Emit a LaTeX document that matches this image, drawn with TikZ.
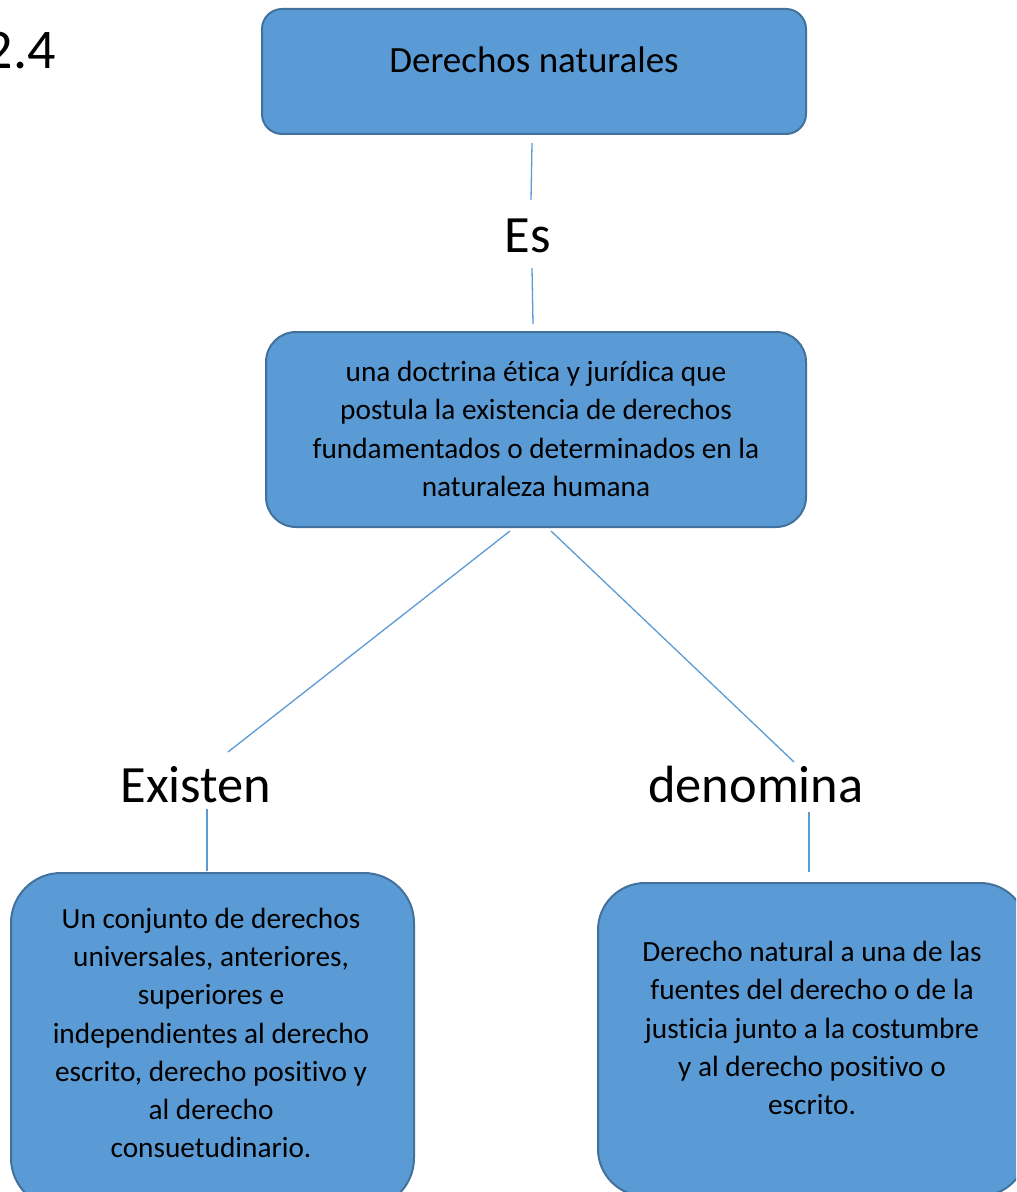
\documentclass[tikz,border=0pt]{standalone}
\usepackage{fontspec}
\setmainfont{Carlito}[Ligatures={NoCommon,NoContextual},RawFeature={-calt}]
\usepackage{xcolor}
\usetikzlibrary{calc}
\definecolor{boxfill}{HTML}{5B9BD5}
\definecolor{boxedge}{HTML}{41719C}
\definecolor{linkblue}{HTML}{5B9BD5}
\tikzstyle{conceptbox} = [draw=boxedge, fill=boxfill, line width=1pt,
rectangle, inner sep=0pt]
\tikzstyle{boxtext} = [align=center, inner sep=0pt, font=\fontsize{14.65}{19.15}\selectfont]
\tikzstyle{linkword} = [inner sep=0pt, anchor=base, font=\fontsize{26.2}{32}\selectfont]
\tikzstyle{link} = [draw=linkblue, line width=0.65pt]
\begin{document}
\begin{tikzpicture}[x=0.5pt, y=-0.5pt]
        \useasboundingbox (0,0) rectangle (1016,1192);
        \clip (0,0) rectangle (1016,1192);
        \node[inner sep=0pt, anchor=base east, font=\fontsize{28}{34}\selectfont] (num) at (56,69) {2.4};
        \node[conceptbox, minimum width=272pt, minimum height=62.5pt, rounded corners=10pt] (top) at (534,71.5) {};
        \node[boxtext, anchor=base, font=\fontsize{18.5}{22}\selectfont] (toptext) at (534,73) {Derechos naturales};
        \node[conceptbox, minimum width=270pt, minimum height=97.5pt, rounded corners=15pt] (mid) at (536,429.5) {};
        \node[boxtext] (midtext) at (536,429) {una doctrina ética y jurídica que\\postula la existencia de derechos\\fundamentados o determinados en la\\naturaleza humana};
        \node[conceptbox, minimum width=201.5pt, minimum height=167.5pt, rounded corners=25pt] (lbox) at (212.5,1040.5) {};
        \node[boxtext] (ltext) at (211,1033) {Un conjunto de derechos\\universales, anteriores,\\superiores e\\independientes al derecho\\escrito, derecho positivo y\\al derecho\\consuetudinario.};
        \node[conceptbox, minimum width=214.5pt, minimum height=156.5pt, rounded corners=23.5pt] (rbox) at (812.5,1039.5) {};
        \node[boxtext] (rtext) at (812,1028) {Derecho natural a una de las\\fuentes del derecho o de la\\justicia junto a la costumbre\\y al derecho positivo o\\escrito.};
        \node[linkword] (es) at (528,253) {Es};
        \node[linkword] (exi) at (196,802) {Existen};
        \node[linkword] (den) at (756,802) {denomina};
        \draw[link] ($(top.south)+(-2,8)$) -- ($(es.base)+(3,-53)$);
        \draw[link] ($(es.base)+(4,15)$) -- ($(mid.north)+(-3,-7)$);
        \draw[link] ($(mid.south)+(-26,3)$) -- ($(exi.base)+(32,-50)$);
        \draw[link] ($(mid.south)+(15,3)$) -- ($(den.base)+(38,-40)$);
        \draw[link] ($(exi.base)+(11,7)$) -- ($(lbox.north)+(-5.5,-1)$);
        \draw[link] ($(den.base)+(53,10)$) -- ($(rbox.north)+(-3.5,-10)$);
    \end{tikzpicture}
\end{document}
